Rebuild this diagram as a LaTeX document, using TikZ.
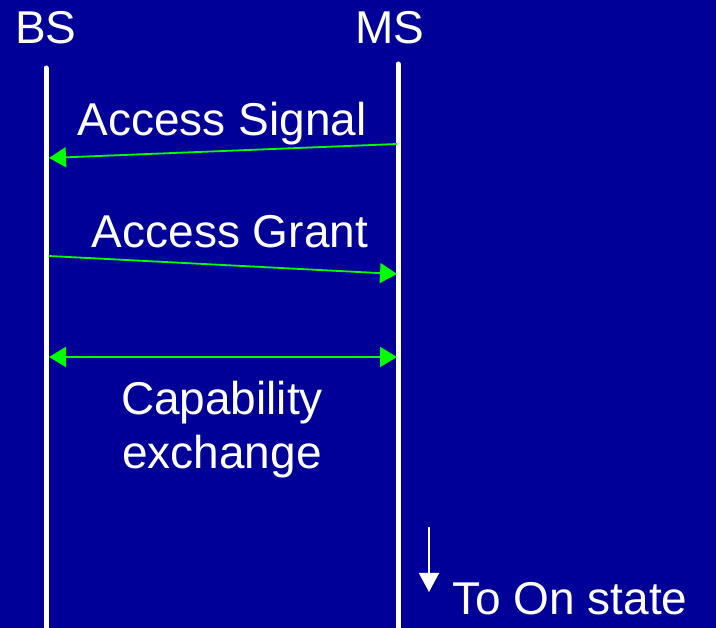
\documentclass[tikz,border=0pt]{standalone}
\usepackage{fontspec}
\setmainfont{Liberation Sans}
\usetikzlibrary{arrows.meta}
\definecolor{bgblue}{HTML}{000099}
\definecolor{msggreen}{HTML}{00FF00}
\tikzset{
  x=1pt, y=-1pt,
  lifeline/.style={draw=white, line width=5pt, line cap=round},
  msg/.style={draw=msggreen, line width=1.8pt, -{Triangle[length=17pt,width=20pt,fill=msggreen]}},
  bimsg/.style={draw=msggreen, line width=1.8pt, {Triangle[length=17pt,width=20pt,fill=msggreen]}-{Triangle[length=17pt,width=20pt,fill=msggreen]}},
  lbl/.style={text=white, font=\fontsize{46}{52}\selectfont, inner sep=0pt},
}
\begin{document}
\begin{tikzpicture}
  % background
  \fill[bgblue] (0,0) rectangle (716,628);
  \useasboundingbox (0,0) rectangle (716,628);

  % entity headers
  \node[lbl, anchor=base] (bs) at (46,44) {BS};
  \node[lbl, anchor=base] (ms) at (390,44) {MS};

  % lifelines
  \coordinate (bsTop) at (46,68);
  \coordinate (bsBot) at (46,640);
  \coordinate (msTop) at (398,64);
  \coordinate (msBot) at (398,640);
  \draw[lifeline] (bsTop) -- (bsBot);
  \draw[lifeline] (msTop) -- (msBot);

  % message end points
  \coordinate (sigS) at (397,144);
  \coordinate (sigE) at (49,158);
  \coordinate (grS) at (49,256);
  \coordinate (grE) at (397,274);
  \coordinate (capL) at (49,357);
  \coordinate (capR) at (397,357);

  \draw[msg] (sigS) -- (sigE);
  \draw[msg] (grS) -- (grE);
  \draw[bimsg] (capL) -- (capR);

  % message labels
  \node[lbl, anchor=base] (sigLbl) at (222,136) {Access Signal};
  \node[lbl, anchor=base] (grLbl) at (230,248) {Access Grant};
  \node[lbl, anchor=base] (capLbl1) at (222,415) {Capability};
  \node[lbl, anchor=base] (capLbl2) at (222,469) {exchange};

  % transition to the On state
  \coordinate (downS) at (429,527);
  \coordinate (downE) at (429,592);
  \draw[white, line width=1.5pt, -{Triangle[length=19pt,width=20pt,fill=white]}] (downS) -- (downE);
  \node[lbl, anchor=base west] (onLbl) at (452,615) {To On state};
\end{tikzpicture}
\end{document}
